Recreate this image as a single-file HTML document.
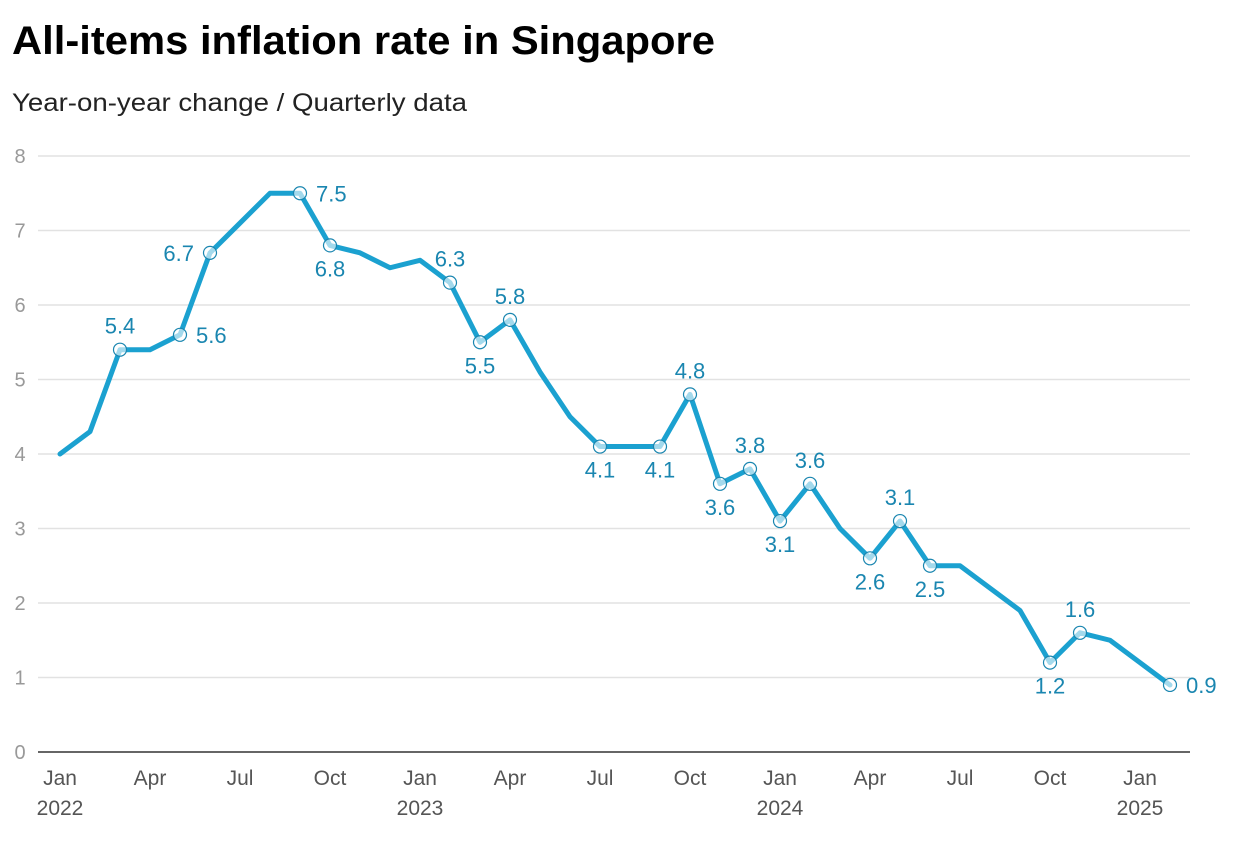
<!DOCTYPE html>
<html><head><meta charset="utf-8"><style>
body{margin:0;background:#fff;font-family:"Liberation Sans",sans-serif;}
svg text{font-family:"Liberation Sans",sans-serif;}
</style></head><body>
<svg id="chart" width="1234" height="842">
<text x="12" y="54" font-size="40" font-weight="bold" fill="#000" textLength="703" lengthAdjust="spacingAndGlyphs">All-items inflation rate in Singapore</text>
<text x="12" y="111" font-size="25" fill="#222" textLength="455" lengthAdjust="spacingAndGlyphs">Year-on-year change / Quarterly data</text>
<g id="grid"></g><g id="marks"></g>
</svg>
<script>
const values=[4.0,4.3,5.4,5.4,5.6,6.7,7.1,7.5,7.5,6.8,6.7,6.5,6.6,6.3,5.5,5.8,5.1,4.5,4.1,4.1,4.1,4.8,3.6,3.8,3.1,3.6,3.0,2.6,3.1,2.5,2.5,2.2,1.9,1.2,1.6,1.5,1.2,0.9];
const labelIdx=[2,4,5,8,9,13,14,15,18,20,21,22,23,24,25,27,28,29,33,34,37];
const labelPos=["a","r","l","r","b","a","b","a","b","b","a","b","a","b","a","b","a","b","b","a","r"];
const yTicks=[0,1,2,3,4,5,6,7,8];
const xTickMonths=[0,3,6,9,12,15,18,21,24,27,30,33,36];
const xTickLabels=["Jan","Apr","Jul","Oct","Jan","Apr","Jul","Oct","Jan","Apr","Jul","Oct","Jan"];
const yearLabels=["2022","","","","2023","","","","2024","","","","2025"];
const NS="http://www.w3.org/2000/svg";
const X=i=>60+i*(1170-60)/37;
const Y=v=>752-v*(752-156)/8;
function mk(t,a,p){const e=document.createElementNS(NS,t);for(const k in a)e.setAttribute(k,a[k]);p.appendChild(e);return e;}
const g=document.getElementById('grid'),m=document.getElementById('marks');
yTicks.forEach(v=>{
 const l=mk('line',{x1:38,x2:1190,y1:Y(v),y2:Y(v),stroke:v===0?'#333':'#e2e2e2','stroke-width':1.5},g);
 
 
 const t=mk('text',{x:20,y:Y(v)+7,'font-size':20,fill:'#999','text-anchor':'middle'},g);t.textContent=v;
 
 
});
xTickMonths.forEach((mo,i)=>{
 const t=mk('text',{x:X(mo),y:785,'font-size':21,fill:'#555','text-anchor':'middle'},g);t.textContent=xTickLabels[i];
 
 
 if(yearLabels[i]){const y=mk('text',{x:X(mo),y:815,'font-size':21,fill:'#555','text-anchor':'middle'},g);y.textContent=yearLabels[i];
 
 }
});
const p=mk('polyline',{points:values.map((v,i)=>X(i)+','+Y(v)).join(' '),fill:'none',stroke:'#1ba1d0','stroke-width':5,'stroke-linejoin':'round','stroke-linecap':'round'},m);


labelIdx.forEach((i,k)=>{
 const c=mk('circle',{cx:X(i),cy:Y(values[i]),r:6.5,fill:'#fff','fill-opacity':0.6,stroke:'#1a86b0','stroke-width':1.2},m);
 
 
 const pos=labelPos[k];let x=X(i),y=Y(values[i]),a='middle';
 if(pos==='a')y-=16;else if(pos==='b')y+=31;else if(pos==='r'){x+=16;a='start';y+=8;}else{x-=16;a='end';y+=8;}
 const t=mk('text',{x:x,y:y,'font-size':22,fill:'#1a86b0','text-anchor':a},m);t.textContent=values[i].toFixed(1);
 
 
});
</script>
</body></html>
